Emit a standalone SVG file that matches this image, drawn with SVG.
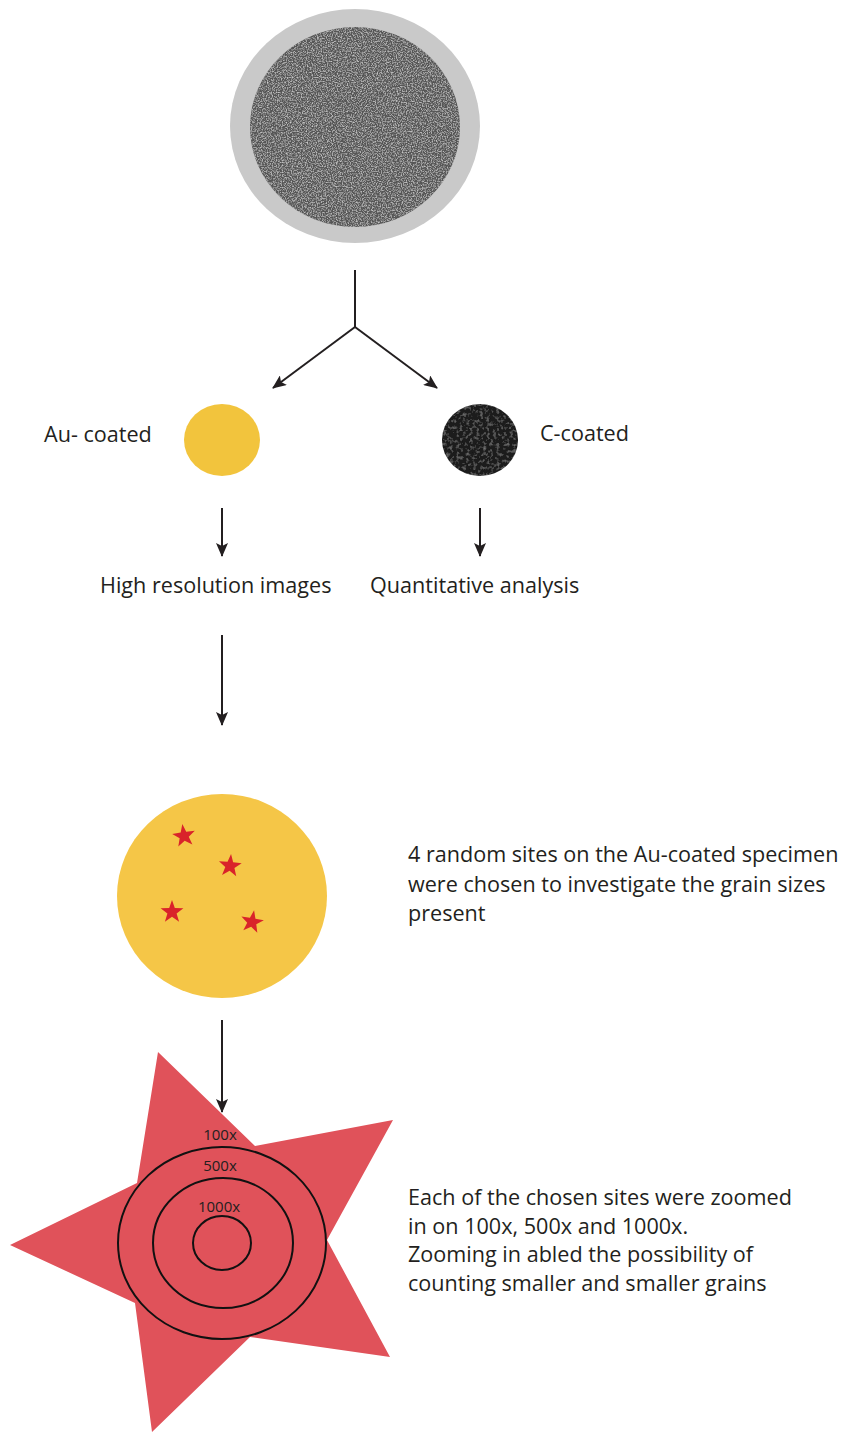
<svg xmlns="http://www.w3.org/2000/svg" width="845" height="1433" viewBox="0 0 845 1433">
<style>
.t{font-family:"Open Sans","Liberation Sans",sans-serif;font-size:21.6px;fill:#231f20}
.s{font-family:"Open Sans","Liberation Sans",sans-serif;font-size:15px;fill:#231f20;text-anchor:middle}
.ln{stroke:#231f20;stroke-width:2;fill:none}
.ring{fill:none;stroke:#111;stroke-width:2}
.mini{fill:#d9232a}
</style>
<defs>
<marker id="ah" markerWidth="14" markerHeight="12" refX="13" refY="6" orient="auto" markerUnits="userSpaceOnUse">
<path d="M0,0 L14,6 L0,12 L3,6 Z" fill="#231f20"/>
</marker>
<filter id="noise" x="0" y="0" width="100%" height="100%">
<feTurbulence type="fractalNoise" baseFrequency="0.8" numOctaves="2" seed="3" result="n"/>
<feColorMatrix in="n" type="matrix" values="0 0 0 0 0.62  0 0 0 0 0.62  0 0 0 0 0.62  0 0 0 2.2 -0.95" result="w"/>
<feComposite in="w" in2="SourceGraphic" operator="in" result="wc"/>
<feMerge><feMergeNode in="SourceGraphic"/><feMergeNode in="wc"/></feMerge>
</filter>
<filter id="noise2" x="0" y="0" width="100%" height="100%">
<feTurbulence type="fractalNoise" baseFrequency="0.3" numOctaves="2" seed="7" result="n"/>
<feColorMatrix in="n" type="matrix" values="0 0 0 0 0.28  0 0 0 0 0.28  0 0 0 0 0.28  0 0 0 1.4 -0.7" result="w"/>
<feComposite in="w" in2="SourceGraphic" operator="in" result="wc"/>
<feMerge><feMergeNode in="SourceGraphic"/><feMergeNode in="wc"/></feMerge>
</filter>
<polygon id="st" points="0,-12 2.8,-3.9 11.4,-3.7 4.6,1.5 7.1,9.7 0,4.8 -7.1,9.7 -4.6,1.5 -11.4,-3.7 -2.8,-3.9"/>
</defs>

<g id="specimen">
<ellipse cx="355" cy="126" rx="125" ry="117" fill="#c9c9c9"/>
<ellipse cx="355" cy="127" rx="105" ry="100" fill="#565656" filter="url(#noise)"/>
</g>

<g id="au-coated">
<ellipse cx="222" cy="440" rx="38" ry="36" fill="#f2c43d"/>
<text class="t" x="44" y="442">Au- coated</text>
</g>

<g id="c-coated">
<ellipse cx="480" cy="440" rx="38" ry="36" fill="#1a1a1a" filter="url(#noise2)"/>
<text class="t" x="540" y="441">C-coated</text>
</g>

<g id="high-res">
<text class="t" x="100" y="593">High resolution images</text>
</g>

<g id="quant">
<text class="t" x="370" y="593">Quantitative analysis</text>
</g>

<g id="sites">
<ellipse cx="222" cy="896" rx="105" ry="102" fill="#f5c647"/>
<use href="#st" class="mini" transform="translate(184,836) rotate(-8)"/>
<use href="#st" class="mini" transform="translate(230,866) rotate(5)"/>
<use href="#st" class="mini" transform="translate(172,912) rotate(0)"/>
<use href="#st" class="mini" transform="translate(252,922) rotate(10)"/>
<text class="t"><tspan x="408" y="862">4 random sites on the Au-coated specimen</tspan><tspan x="408" y="892">were chosen to investigate the grain sizes</tspan><tspan x="408" y="921">present</tspan></text>
</g>

<g id="zoom">
<polygon points="158,1052 255,1146 393,1120 327,1240 390,1357 250,1337 152,1432 135,1303 10,1245 137,1183" fill="#e0525a"/>
<ellipse class="ring" cx="222" cy="1243" rx="104" ry="96"/>
<ellipse class="ring" cx="223" cy="1243" rx="70" ry="65"/>
<ellipse class="ring" cx="222" cy="1243" rx="29" ry="27"/>
<text class="s" x="220" y="1140">100x</text>
<text class="s" x="220" y="1171">500x</text>
<text class="s" x="219" y="1212">1000x</text>
<text class="t"><tspan x="408" y="1205">Each of the chosen sites were zoomed</tspan><tspan x="408" y="1234">in on 100x, 500x and 1000x.</tspan><tspan x="408" y="1262">Zooming in abled the possibility of</tspan><tspan x="408" y="1291">counting smaller and smaller grains</tspan></text>
</g>

<g id="connectors">
<path class="ln" d="M355,270 L355,327"/>
<path class="ln" d="M355,327 L273,388" marker-end="url(#ah)"/>
<path class="ln" d="M355,327 L437,388" marker-end="url(#ah)"/>
<path class="ln" d="M222,508 L222,556" marker-end="url(#ah)"/>
<path class="ln" d="M480,508 L480,556" marker-end="url(#ah)"/>
<path class="ln" d="M222,635 L222,725" marker-end="url(#ah)"/>
<path class="ln" d="M222,1020 L222,1112" marker-end="url(#ah)"/>
</g>
</svg>
